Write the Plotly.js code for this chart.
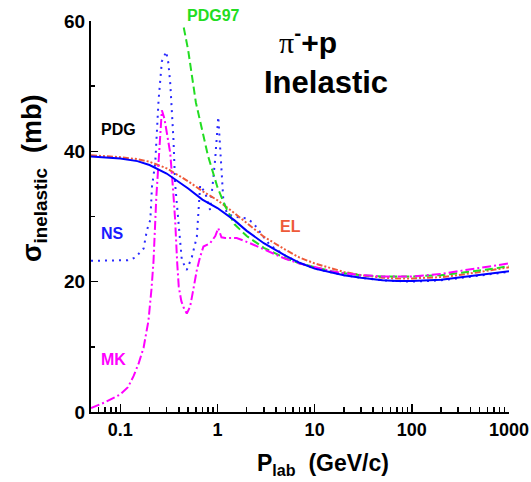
<!DOCTYPE html>
<html>
<head>
<meta charset="utf-8">
<script src="https://cdn.plot.ly/plotly-3.0.1.min.js"></script>
<style>
html,body{margin:0;padding:0;background:#fff;}
#chart{width:531px;height:482px;}
</style>
</head>
<body>
<div id="chart"></div>
<script>
// ---- Data ----
const pdgX = [0.05,0.07,0.1,0.15,0.2,0.3,0.4,0.5,0.7,1,1.5,2,3,5,7,10,15,20,30,50,70,100,200,300,500,700,1000];
const pdgY = [39.2,39.1,38.9,38.5,37.9,36.6,35.3,34.3,32.6,31.3,29.4,27.8,25.9,24.0,22.9,22.0,21.4,21.0,20.6,20.2,20.1,20.1,20.3,20.6,21.0,21.3,21.6];

const elX = [0.05,0.07,0.1,0.15,0.2,0.3,0.4,0.5,0.7,1,1.5,2,3,5,7,10,15,20,30,50,70,100,200,300,500,700,1000];
const elY = [39.4,39.3,39.1,38.8,38.4,37.4,36.3,35.4,33.9,32.5,30.5,29.0,26.9,24.9,23.7,22.8,22.0,21.5,21.0,20.6,20.5,20.5,20.7,21.0,21.5,21.8,22.2];

const pdg97X = [0.45,0.5,0.6,0.7,0.8,1,1.2,1.5,2,3,5,7,10,15,20,30,50,70,100,200,300,500,700,1000];
const pdg97Y = [59.0,55.5,47.5,43.0,39.3,34.5,31.6,28.8,27.0,25.2,23.6,22.8,22.2,21.6,21.3,21.0,20.8,20.8,20.8,21.0,21.3,21.7,22.0,22.4];

const mkX = [0.05,0.07,0.1,0.12,0.137,0.155,0.174,0.195,0.21,0.22,0.235,0.25,0.268,0.285,0.3,0.327,0.35,0.367,0.385,0.4,0.425,0.45,0.484,0.524,0.56,0.614,0.66,0.718,0.84,0.95,1.02,1.1,1.2,1.58,2.17,3.47,5,7,10,15,20,30,50,100,200,300,500,1000];
const mkY = [0.6,1.5,2.7,3.8,5.5,7.5,9.9,14.0,19.0,23.2,33.0,40.0,46.3,45.0,43.0,39.7,34.0,29.5,23.0,19.2,17.0,16.0,15.1,16.2,18.5,21.8,23.7,25.4,25.9,27.0,28.2,26.8,26.7,26.7,25.9,24.6,23.5,22.8,22.2,21.6,21.3,21.0,20.8,20.8,21.2,21.6,22.1,22.8];

const nsX = [0.05,0.07,0.1,0.12,0.143,0.174,0.188,0.204,0.212,0.229,0.248,0.258,0.268,0.297,0.313,0.327,0.34,0.353,0.367,0.398,0.43,0.484,0.546,0.614,0.664,0.75,0.84,0.947,0.986,1.02,1.065,1.11,1.15,1.25,1.46,2.0,2.34,2.97,3.47,5,7,10,15,20,30,50,70,100,200,300,500,700,1000];
const nsY = [23.2,23.2,23.2,23.3,23.7,25.1,27.9,29.5,34.6,38.2,47.9,51.5,53.8,55.3,53.5,50.4,46.3,41.7,35.0,29.5,23.3,21.8,23.8,26.9,34.8,33.6,31.0,38.7,42.2,45.3,40.7,36.6,32.5,30.5,30.0,29.7,29.0,26.9,25.6,24.0,22.9,22.0,21.4,21.0,20.6,20.2,20.1,20.0,20.2,20.5,20.9,21.2,21.5];

const xMajor = [0.1,1,10,100,1000];
const xMajorText = ['0.1','1','10','100','1000'];
const xMinor = [0.06,0.07,0.08,0.09,0.2,0.3,0.4,0.5,0.6,0.7,0.8,0.9,2,3,4,5,6,7,8,9,20,30,40,50,60,70,80,90,200,300,400,500,600,700,800,900];
const yMajor = [0,20,40,60];
const yMinor = [10,30,50];

const FONT = '"Liberation Sans", Arial, sans-serif';

const traces = [
  {x: nsX, y: nsY, mode:'lines', line:{color:'#2a2aff', width:2, dash:'2px,5px'}, name:'NS'},
  {x: elX, y: elY, mode:'lines', line:{color:'#ee5a3a', width:2, dash:'6px,2px,2px,2px,2px,2px'}, name:'EL'},
  {x: pdg97X, y: pdg97Y, mode:'lines', line:{color:'#22dd22', width:2, dash:'8px,4px'}, name:'PDG97'},
  {x: mkX, y: mkY, mode:'lines', line:{color:'#ff00ff', width:2, dash:'9px,3px,2px,3px'}, name:'MK'},
  {x: pdgX, y: pdgY, mode:'lines', line:{color:'#0000ff', width:2}, name:'PDG'}
];

// pixel -> paper helpers (plot area: x 91..509, y 21..412)
const px = (v) => (v - 91) / 418;
const py = (v) => (412 - v) / 391;
const lblFont = (c) => ({family: FONT, size: 16, color: c, weight: 'bold'});

const layout = {
  width: 531, height: 482,
  margin: {l: 91, r: 22, t: 21, b: 70},
  paper_bgcolor: '#ffffff', plot_bgcolor: '#ffffff',
  showlegend: false,
  font: {family: FONT, color: '#000', size: 18, weight: 'bold'},
  xaxis: {
    type: 'log', range: [Math.log10(0.05), 3],
    showgrid: false, zeroline: false,
    showline: true, linecolor: '#000', linewidth: 2,
    ticks: 'inside', ticklen: 8, tickwidth: 1.5, tickcolor: '#000',
    tickmode: 'array', tickvals: xMajor, ticktext: xMajorText,
    tickfont: {family: FONT, size: 18, color: '#000', weight: 'bold'},
    minor: {ticks: 'inside', ticklen: 5, tickwidth: 1.5, tickcolor: '#000', tickmode: 'array', tickvals: xMinor, showgrid: false},
    automargin: false
  },
  yaxis: {
    range: [0, 60],
    showgrid: false, zeroline: false,
    showline: true, linecolor: '#000', linewidth: 2,
    ticks: 'inside', ticklen: 7, tickwidth: 1.5, tickcolor: '#000',
    tickmode: 'array', tickvals: yMajor,
    tickfont: {family: FONT, size: 19, color: '#000', weight: 'bold'},
    minor: {ticks: 'inside', ticklen: 4, tickwidth: 1.5, tickcolor: '#000', tickmode: 'array', tickvals: yMinor, showgrid: false},
    automargin: false
  },
  annotations: [
    // axis titles
    {xref:'paper', yref:'paper', x:px(255), y:py(448), xanchor:'left', yanchor:'top', showarrow:false,
     text:'P<sub>lab</sub>  (GeV/c)', font:{family: FONT, size: 23, color:'#000', weight:'bold'}},
    {xref:'paper', yref:'paper', x:px(34), y:py(178), xanchor:'center', yanchor:'middle', showarrow:false, textangle:-90,
     text:'σ<sub>inelastic</sub>  (mb)', font:{family: FONT, size: 27, color:'#000', weight:'bold'}},
    // chart title
    {xref:'paper', yref:'paper', x:px(308), y:py(40), xanchor:'center', yanchor:'middle', showarrow:false,
     text:'<span style="font-family:Liberation Serif;font-weight:normal">π</span><sup>-</sup>+p',
     font:{family: FONT, size: 30, color:'#000', weight:'bold'}},
    {xref:'paper', yref:'paper', x:px(326), y:py(82), xanchor:'center', yanchor:'middle', showarrow:false,
     text:'Inelastic', font:{family: FONT, size: 31, color:'#000', weight:'bold'}},
    // curve labels
    {xref:'paper', yref:'paper', x:px(118), y:py(129), xanchor:'center', yanchor:'middle', showarrow:false, text:'PDG', font: lblFont('#000')},
    {xref:'paper', yref:'paper', x:px(213), y:py(16), xanchor:'center', yanchor:'middle', showarrow:false, text:'PDG97', font: lblFont('#22dd22')},
    {xref:'paper', yref:'paper', x:px(112), y:py(233), xanchor:'center', yanchor:'middle', showarrow:false, text:'NS', font: lblFont('#1a1aff')},
    {xref:'paper', yref:'paper', x:px(290), y:py(226), xanchor:'center', yanchor:'middle', showarrow:false, text:'EL', font: lblFont('#ee5a3a')},
    {xref:'paper', yref:'paper', x:px(113), y:py(359), xanchor:'center', yanchor:'middle', showarrow:false, text:'MK', font: lblFont('#ff00ff')}
  ]
};

Plotly.newPlot('chart', traces, layout, {staticPlot: true, displayModeBar: false});
</script>
</body>
</html>
